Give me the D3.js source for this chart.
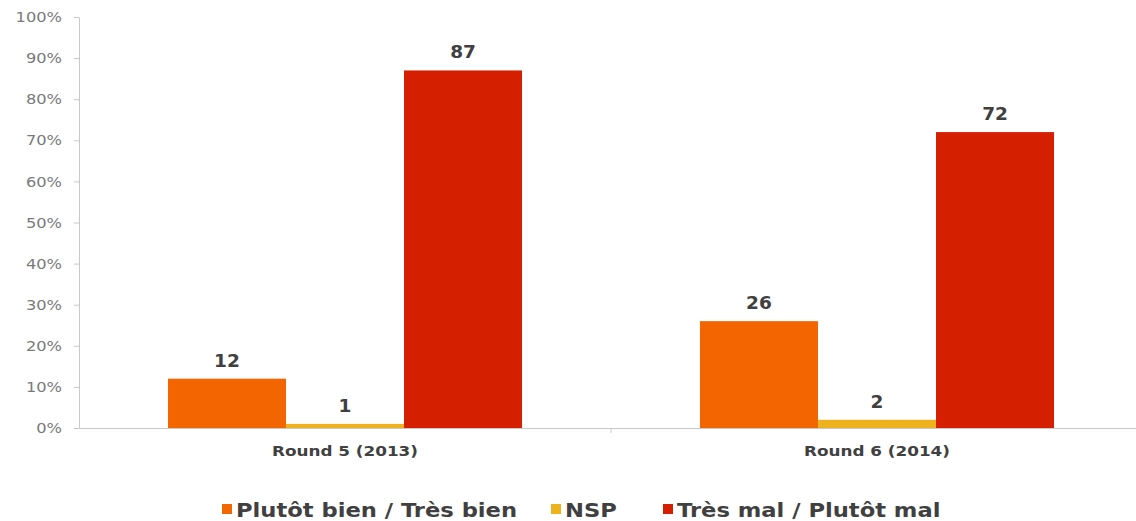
<!DOCTYPE html>
<html>
<head>
<meta charset="utf-8">
<script src="https://cdn.jsdelivr.net/npm/d3@7"></script>
<style>
  body { margin: 0; background: #fff; }
  svg { display: block; }
  .axis path, .axis line { stroke: #c8c8c8; }
  .axis text { fill: #7a7a7a; font-family: "DejaVu Sans", sans-serif; font-size: 14.5px; }
</style>
</head>
<body>
<div id="chart"></div>
<script>
// chart data
var rounds = ["Round 5 (2013)", "Round 6 (2014)"];
var seriesNames = ["Plutôt bien / Très bien", "NSP", "Très mal / Plutôt mal"];
var seriesColors = ["#f26500", "#efb21f", "#d42000"];
var plutotBien = [12, 26];
var nsp = [1, 2];
var tresMal = [87, 72];
var yTicks = [0, 10, 20, 30, 40, 50, 60, 70, 80, 90, 100];

var allSeries = [plutotBien, nsp, tresMal];

var svgWidth = 1136, svgHeight = 521;
var margin = { top: 17, right: 0, bottom: 93, left: 79 };
var width = svgWidth - margin.left - margin.right;
var height = svgHeight - margin.top - margin.bottom;

// the original font is a wide geometric one, so stretch text a little
function stretch(sel, factor) {
    sel.each(function() {
        var len = this.getComputedTextLength();
        d3.select(this)
            .attr("textLength", len * factor)
            .attr("lengthAdjust", "spacingAndGlyphs");
    });
}

var svg = d3.select("#chart")
    .append("svg")
    .attr("width", svgWidth)
    .attr("height", svgHeight);

var chartGroup = svg.append("g")
    .attr("transform", `translate(${margin.left},${margin.top})`);

var x0 = d3.scaleBand()
    .domain(rounds)
    .range([0, 1064])
    .paddingInner(0)
    .paddingOuter(0);

var x1 = d3.scaleBand()
    .domain(seriesNames)
    .range([0, x0.bandwidth()])
    .paddingOuter(0.754)
    .paddingInner(0);

var y = d3.scaleLinear()
    .domain([0, 100])
    .range([height, 0]);

// y axis
var leftAxis = d3.axisLeft(y)
    .tickValues(yTicks)
    .tickFormat(d => d + "%")
    .tickSizeInner(5)
    .tickSizeOuter(0)
    .tickPadding(12);

chartGroup.append("g")
    .classed("axis", true)
    .call(leftAxis)
    .selectAll("text")
    .call(stretch, 1.12);

// x axis line
var bottomAxis = d3.axisBottom(x0)
    .tickValues([])
    .tickSizeOuter(0);

chartGroup.append("g")
    .classed("axis", true)
    .attr("transform", `translate(0,${height})`)
    .call(bottomAxis);

// separator tick between the two rounds
chartGroup.append("line")
    .attr("x1", x0(rounds[1]))
    .attr("x2", x0(rounds[1]))
    .attr("y1", height)
    .attr("y2", height + 5)
    .attr("stroke", "#c8c8c8");

// category labels
chartGroup.selectAll(".cat-label")
    .data(rounds)
    .join("text")
    .attr("class", "cat-label")
    .attr("x", d => x0(d) + x0.bandwidth() / 2)
    .attr("y", height + 28)
    .attr("text-anchor", "middle")
    .attr("font-family", "DejaVu Sans, sans-serif")
    .attr("font-weight", "bold")
    .attr("font-size", "14px")
    .attr("fill", "#404040")
    .text(d => d)
    .call(stretch, 1.2);

// bars
var barData = [];
rounds.forEach((r, i) => {
    seriesNames.forEach((s, j) => {
        barData.push({ round: r, series: s, value: allSeries[j][i], color: seriesColors[j] });
    });
});

var bars = chartGroup.selectAll(".bar-group")
    .data(barData)
    .join("g")
    .attr("class", "bar-group")
    .attr("transform", d => `translate(${x0(d.round) + x1(d.series)},0)`);

bars.append("rect")
    .attr("x", 0)
    .attr("y", d => y(d.value))
    .attr("width", x1.bandwidth())
    .attr("height", d => height - y(d.value))
    .attr("fill", d => d.color);

bars.append("text")
    .attr("x", x1.bandwidth() / 2)
    .attr("y", d => y(d.value) - 12)
    .attr("text-anchor", "middle")
    .attr("font-family", "DejaVu Sans, sans-serif")
    .attr("font-weight", "bold")
    .attr("font-size", "18.5px")
    .attr("fill", "#404040")
    .text(d => d.value);

// legend
var legendX = [222, 551, 663];
var legend = svg.append("g")
    .attr("transform", "translate(0,510)");

var legendItems = legend.selectAll(".legend-item")
    .data(seriesNames)
    .join("g")
    .attr("class", "legend-item")
    .attr("transform", (d, i) => `translate(${legendX[i]},0)`);

legendItems.append("rect")
    .attr("x", 0)
    .attr("y", -6)
    .attr("width", 10)
    .attr("height", 10)
    .attr("fill", (d, i) => seriesColors[i]);

legendItems.append("text")
    .attr("x", 14)
    .attr("y", 0)
    .attr("dy", "0.35em")
    .attr("font-family", "DejaVu Sans, sans-serif")
    .attr("font-weight", "bold")
    .attr("font-size", "19.5px")
    .attr("fill", "#404040")
    .text(d => d)
    .call(stretch, 1.16);
</script>
</body>
</html>
